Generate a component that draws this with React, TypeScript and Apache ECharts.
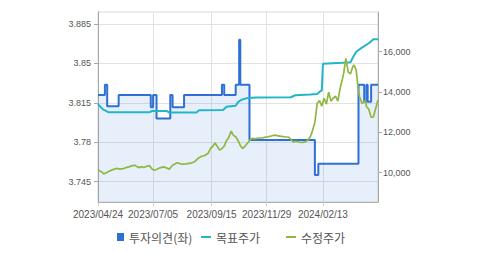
import React, { useEffect, useRef } from "react";
import * as echarts from "echarts";

// Trading days (KRX) shown on the category axis
const tradingDays: [string, number[]][] = [
  ["2023/04", [24, 25, 26, 27, 28]],
  ["2023/05", [2, 3, 4, 8, 9, 10, 11, 12, 15, 16, 17, 18, 19, 22, 23, 24, 25, 26, 30, 31]],
  ["2023/06", [1, 2, 5, 7, 8, 9, 12, 13, 14, 15, 16, 19, 20, 21, 22, 23, 26, 27, 28, 29, 30]],
  ["2023/07", [3, 4, 5, 6, 7, 10, 11, 12, 13, 14, 17, 18, 19, 20, 21, 24, 25, 26, 27, 28, 31]],
  ["2023/08", [1, 2, 3, 4, 7, 8, 9, 10, 11, 14, 16, 17, 18, 21, 22, 23, 24, 25, 28, 29, 30, 31]],
  ["2023/09", [1, 4, 5, 6, 7, 8, 11, 12, 13, 14, 15, 18, 19, 20, 21, 22, 25, 26, 27]],
  ["2023/10", [4, 5, 6, 10, 11, 12, 13, 16, 17, 18, 19, 20, 23, 24, 25, 26, 27, 30, 31]],
  ["2023/11", [1, 2, 3, 6, 7, 8, 9, 10, 13, 14, 15, 16, 17, 20, 21, 22, 23, 24, 27, 28, 29, 30]],
  ["2023/12", [1, 4, 5, 6, 7, 8, 11, 12, 13, 14, 15, 18, 19, 20, 21, 22, 26, 27, 28]],
  ["2024/01", [2, 3, 4, 5, 8, 9, 10, 11, 12, 15, 16, 17, 18, 19, 22, 23, 24, 25, 26, 29, 30, 31]],
  ["2024/02", [1, 2, 5, 6, 7, 8, 13, 14, 15, 16, 19, 20, 21, 22, 23, 26, 27, 28, 29]],
  ["2024/03", [4, 5, 6, 7, 8, 11, 12, 13, 14, 15, 18, 19, 20, 21, 22, 25, 26, 27, 28, 29]],
  ["2024/04", [1, 2, 3, 4, 5, 8, 9, 11, 12, 15, 16, 17, 18, 19, 22, 23]],
];

const xLabelDates = ["2023/04/24", "2023/07/05", "2023/09/15", "2023/11/29", "2024/02/13"];
const leftTicks = [3.745, 3.78, 3.815, 3.85, 3.885];
const rightTicks = [10000, 12000, 14000, 16000];

// [trading-day index, value]
// 투자의견 (left axis), value changes (held until next point)
const opinion: [number, number][] = [
  [0, 3.822], [6, 3.831], [8, 3.812], [18, 3.822], [46, 3.811], [48, 3.822],
  [51, 3.801], [63, 3.822], [65, 3.811], [75, 3.822], [108, 3.831], [110, 3.822],
  [120, 3.831], [123, 3.871], [124, 3.831], [132, 3.782], [189, 3.751], [192, 3.761],
  [227, 3.831], [232, 3.816], [234, 3.831], [235, 3.816], [238, 3.831], [244, 3.831],
];

// 목표주가 (right axis)
const targetPrice: [number, number][] = [
  [0, 13400], [4, 13150], [9, 13000], [45, 13000], [47, 13060], [60, 13060], [62, 12980],
  [86, 12990], [88, 13100], [109, 13110], [112, 13270], [120, 13320], [122, 13500],
  [125, 13620], [130, 13700], [138, 13730], [168, 13740], [172, 13840], [185, 13880],
  [191, 13900], [194, 14050], [195, 14070], [196, 15400], [213, 15450], [220, 15480],
  [222, 15700], [225, 16000], [230, 16200], [236, 16420], [240, 16615], [244, 16620],
];

// 수정주가 (right axis)
const adjPrice: [number, number][] = [
  [0, 10130], [3, 10050], [5, 9940], [8, 10020], [10, 10080], [13, 10150], [16, 10210],
  [19, 10180], [22, 10200], [25, 10260], [27, 10290], [30, 10350], [32, 10370], [34, 10300],
  [36, 10250], [38, 10300], [40, 10260], [42, 10310], [45, 10350], [47, 10180], [49, 10120],
  [51, 10160], [54, 10240], [57, 10290], [60, 10230], [62, 10170], [65, 10370], [67, 10430],
  [69, 10490], [72, 10440], [75, 10420], [78, 10450], [81, 10470], [84, 10540], [87, 10700],
  [90, 10800], [93, 10850], [96, 10960], [98, 11200], [100, 11300], [102, 11480], [104, 11300],
  [106, 11120], [108, 11200], [110, 11320], [112, 11600], [114, 11750], [116, 12060],
  [118, 11850], [120, 11780], [122, 11600], [124, 11350], [126, 11200], [128, 11300],
  [130, 11450], [132, 11580], [134, 11700], [137, 11680], [140, 11720], [143, 11720],
  [146, 11760], [148, 11780], [151, 11820], [154, 11860], [157, 11830], [160, 11800],
  [163, 11780], [166, 11770], [168, 11650], [170, 11530], [172, 11560], [175, 11520],
  [178, 11500], [181, 11540], [183, 11620], [185, 11780], [187, 12100], [189, 12500],
  [191, 13440], [193, 13580], [195, 13300], [197, 13690], [199, 13400], [201, 14000],
  [203, 13550], [205, 13700], [207, 13800], [209, 13550], [211, 14180], [213, 14650],
  [214, 14900], [216, 15670], [218, 15000], [220, 14900], [222, 15250], [223, 15340],
  [225, 15100], [227, 14000], [228, 13770], [230, 13440], [232, 13500], [233, 13600],
  [234, 13270], [236, 13150], [238, 12750], [240, 12760], [242, 13200], [244, 13600],
];

const categories: string[] = tradingDays.flatMap(([m, ds]) =>
  ds.map((d) => `${m}/${String(d).padStart(2, "0")}`)
);

const BLUE = "#2f70d4";
const CYAN = "#22b6c9";
const GREEN = "#8fb840";
const AXIS_FONT = "'Liberation Sans', Arial, sans-serif";
const LEGEND_FONT = "'Noto Sans CJK KR', 'Noto Sans', sans-serif";

export default function App() {
  const ref = useRef<HTMLDivElement>(null);

  useEffect(() => {
    if (!ref.current) return;
    const chart = echarts.init(ref.current, undefined, { renderer: "svg" });
    const showAt = (_i: number, v: string) => xLabelDates.includes(v);
    const toCat = (arr: [number, number][]) => arr.map(([i, v]) => [categories[i], v]);

    const legendCommon = {
      top: 231,
      padding: 0,
      textStyle: { fontFamily: LEGEND_FONT, fontSize: 12, color: "#555" },
      selectedMode: false,
      icon: "rect",
    };

    chart.setOption({
      animation: false,
      backgroundColor: "#fff",
      grid: {
        left: 98,
        right: 101,
        top: 12,
        bottom: 52,
        show: true,
        borderColor: "#d8d8d8",
        borderWidth: 1,
        backgroundColor: "transparent",
      },
      legend: [
        { ...legendCommon, left: 117, itemWidth: 7, itemHeight: 8, data: ["투자의견(좌)"] },
        { ...legendCommon, left: 201, itemWidth: 10, itemHeight: 2, data: ["목표주가"] },
        { ...legendCommon, left: 286, itemWidth: 10, itemHeight: 2, data: ["수정주가"] },
      ],
      xAxis: {
        type: "category",
        data: categories,
        boundaryGap: false,
        axisLine: { show: true, lineStyle: { color: "#b0b0b0" } },
        axisTick: { show: true, interval: showAt, length: 4, lineStyle: { color: "#cfcfcf" } },
        axisLabel: {
          interval: showAt,
          margin: 7,
          fontSize: 10,
          fontFamily: AXIS_FONT,
          color: "#555",
          hideOverlap: false,
        },
        splitLine: { show: true, interval: showAt, lineStyle: { color: "#e2e2e2" } },
      },
      yAxis: [
        {
          type: "value",
          min: 3.727,
          max: 3.8955,
          position: "left",
          axisLine: { show: true, lineStyle: { color: "#a8a8a8" } },
          axisTick: { show: true, length: 4, customValues: leftTicks, lineStyle: { color: "#a8a8a8" } },
          axisLabel: {
            customValues: leftTicks,
            margin: 7,
            fontSize: 9,
            fontFamily: AXIS_FONT,
            color: "#555",
            showMinLabel: true,
            showMaxLabel: true,
          },
          splitLine: { show: true, lineStyle: { color: "#e2e2e2" } },
        },
        {
          type: "value",
          min: 8546,
          max: 17970,
          position: "right",
          axisLine: { show: true, lineStyle: { color: "#a8a8a8" } },
          axisTick: { show: true, length: 4, customValues: rightTicks, lineStyle: { color: "#a8a8a8" } },
          axisLabel: {
            customValues: rightTicks,
            margin: 5,
            fontSize: 9,
            fontFamily: AXIS_FONT,
            color: "#555",
            formatter: (v: number) => v.toLocaleString("en-US"),
          },
          splitLine: { show: false },
        },
      ],
      series: [
        {
          name: "투자의견(좌)",
          type: "line",
          yAxisIndex: 0,
          step: "end",
          data: toCat(opinion),
          showSymbol: false,
          itemStyle: { color: BLUE },
          lineStyle: { color: BLUE, width: 2 },
          areaStyle: { color: "rgba(53,117,211,0.17)", origin: "start" },
          z: 2,
        },
        {
          name: "목표주가",
          type: "line",
          yAxisIndex: 1,
          data: toCat(targetPrice),
          showSymbol: false,
          itemStyle: { color: CYAN },
          lineStyle: { color: CYAN, width: 2 },
          z: 3,
        },
        {
          name: "수정주가",
          type: "line",
          yAxisIndex: 1,
          data: toCat(adjPrice),
          showSymbol: false,
          itemStyle: { color: GREEN },
          lineStyle: { color: GREEN, width: 1.7 },
          z: 4,
        },
      ],
    });
    return () => chart.dispose();
  }, []);

  return (
    <div
      ref={ref}
      style={{ position: "fixed", left: 0, top: 0, width: 479, height: 254, background: "#fff" }}
    />
  );
}
